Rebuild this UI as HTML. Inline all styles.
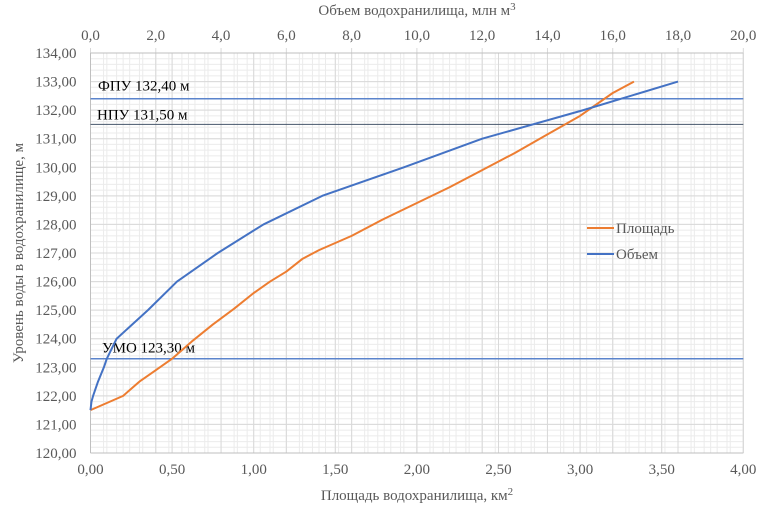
<!DOCTYPE html>
<html><head><meta charset="utf-8"><style>
html,body{margin:0;padding:0;background:#fff;}
svg text{font-family:"Liberation Serif",serif;fill:#595959;}
</style></head><body>
<svg id="s" width="768" height="511" xmlns="http://www.w3.org/2000/svg"></svg>
<script>
const s=document.getElementById('s');
const L=90.5,R=743.3,T=53,B=453;
const W=R-L,H=B-T;
const X=v=>L+v/4*W, XV=v=>L+v/20*W, Y=v=>B-(v-120)/14*H;
let h='';
for(let v=120;v<=134.001;v+=0.2){h+=`<line x1="${L}" x2="${R}" y1="${Y(v)}" y2="${Y(v)}" stroke="#ebebeb" stroke-width="1"/>`;}
for(let v=0;v<=4.001;v+=0.1){h+=`<line y1="${T}" y2="${B}" x1="${X(v)}" x2="${X(v)}" stroke="#ebebeb"/>`;}
for(let v=0;v<=20.001;v+=0.4){h+=`<line y1="${T}" y2="${B}" x1="${XV(v)}" x2="${XV(v)}" stroke="#ebebeb"/>`;}
for(let v=120;v<=134;v++){h+=`<line x1="${L}" x2="${R}" y1="${Y(v)}" y2="${Y(v)}" stroke="#d9d9d9"/>`;
 h+=`<text x="${L-14}" y="${Y(v)+5}" font-size="15" text-anchor="end">${v},00</text>`;}
for(let i=0;i<=8;i++){const v=i*0.5;h+=`<line y1="${T}" y2="${B}" x1="${X(v)}" x2="${X(v)}" stroke="#d9d9d9"/>`;
 h+=`<text x="${X(v)}" y="${B+21}" font-size="15" text-anchor="middle">${v.toFixed(2).replace('.',',')}</text>`;}
for(let i=0;i<=10;i++){const v=i*2;h+=`<line y1="${T-5}" y2="${B}" x1="${XV(v)}" x2="${XV(v)}" stroke="#d9d9d9"/>`;
 h+=`<text x="${XV(v)}" y="${T-13}" font-size="15" text-anchor="middle">${v.toFixed(1).replace('.',',')}</text>`;}
h+=`<line x1="${L}" x2="${R}" y1="${B}" y2="${B}" stroke="#bfbfbf"/><line x1="${L}" x2="${L}" y1="${T}" y2="${B}" stroke="#bfbfbf"/><line x1="${L}" x2="${R}" y1="${T}" y2="${T}" stroke="#bfbfbf"/>`;
h+=`<line x1="${L}" x2="${R}" y1="${Y(132.4)}" y2="${Y(132.4)}" stroke="#5b84cc" stroke-width="1.5"/>`;
h+=`<line x1="${L}" x2="${R}" y1="${Y(131.5)}" y2="${Y(131.5)}" stroke="#44546a" stroke-width="1"/>`;
h+=`<line x1="${L}" x2="${R}" y1="${Y(123.3)}" y2="${Y(123.3)}" stroke="#5b84cc" stroke-width="1.5"/>`;
h+=`<text x="98" y="${Y(132.4)-8}" font-size="15" style="fill:#000">ФПУ 132,40 м</text>`;
h+=`<text x="97" y="${Y(131.5)-5}" font-size="15" style="fill:#000">НПУ 131,50 м</text>`;
h+=`<text x="102" y="${Y(123.3)-6}" font-size="15" style="fill:#000">УМО 123,30 м</text>`;
const area=[[0,121.5],[0.2,122],[0.3,122.5],[0.4,122.9],[0.5,123.3],[0.62,123.9],[0.75,124.5],[0.88,125.05],[1.0,125.6],[1.1,126],[1.2,126.35],[1.3,126.8],[1.4,127.1],[1.6,127.6],[1.8,128.2],[2.0,128.75],[2.2,129.3],[2.4,129.9],[2.6,130.5],[2.8,131.15],[3.0,131.8],[3.2,132.6],[3.33,133]];
const vol=[[0,121.5],[0.03,121.8],[0.08,122],[0.23,122.5],[0.41,123],[0.5,123.3],[0.8,124],[1.76,125],[2.65,126],[3.9,127],[5.3,128],[7.1,129],[9.6,130],[12.0,131],[15.1,132],[18.0,133]];
h+=`<polyline fill="none" stroke="#ed7d31" stroke-width="2" stroke-linejoin="round" points="${area.map(p=>X(p[0])+','+Y(p[1])).join(' ')}"/>`;
h+=`<polyline fill="none" stroke="#4472c4" stroke-width="2" stroke-linejoin="round" points="${vol.map(p=>XV(p[0])+','+Y(p[1])).join(' ')}"/>`;
h+=`<line x1="587" x2="614" y1="228" y2="228" stroke="#ed7d31" stroke-width="2"/><text x="616" y="233" font-size="15">Площадь</text>`;
h+=`<line x1="587" x2="614" y1="254" y2="254" stroke="#4472c4" stroke-width="2"/><text x="616" y="259" font-size="15">Объем</text>`;
h+=`<text x="417" y="15" font-size="15" text-anchor="middle">Объем водохранилища, млн м<tspan font-size="11" dy="-5">3</tspan></text>`;
h+=`<text x="417" y="500" font-size="15" text-anchor="middle">Площадь водохранилища, км<tspan font-size="11" dy="-5">2</tspan></text>`;
h+=`<text transform="translate(23,253) rotate(-90)" font-size="15" text-anchor="middle">Уровень воды в водохранилище, м</text>`;
s.innerHTML=h;
</script>
</body></html>
